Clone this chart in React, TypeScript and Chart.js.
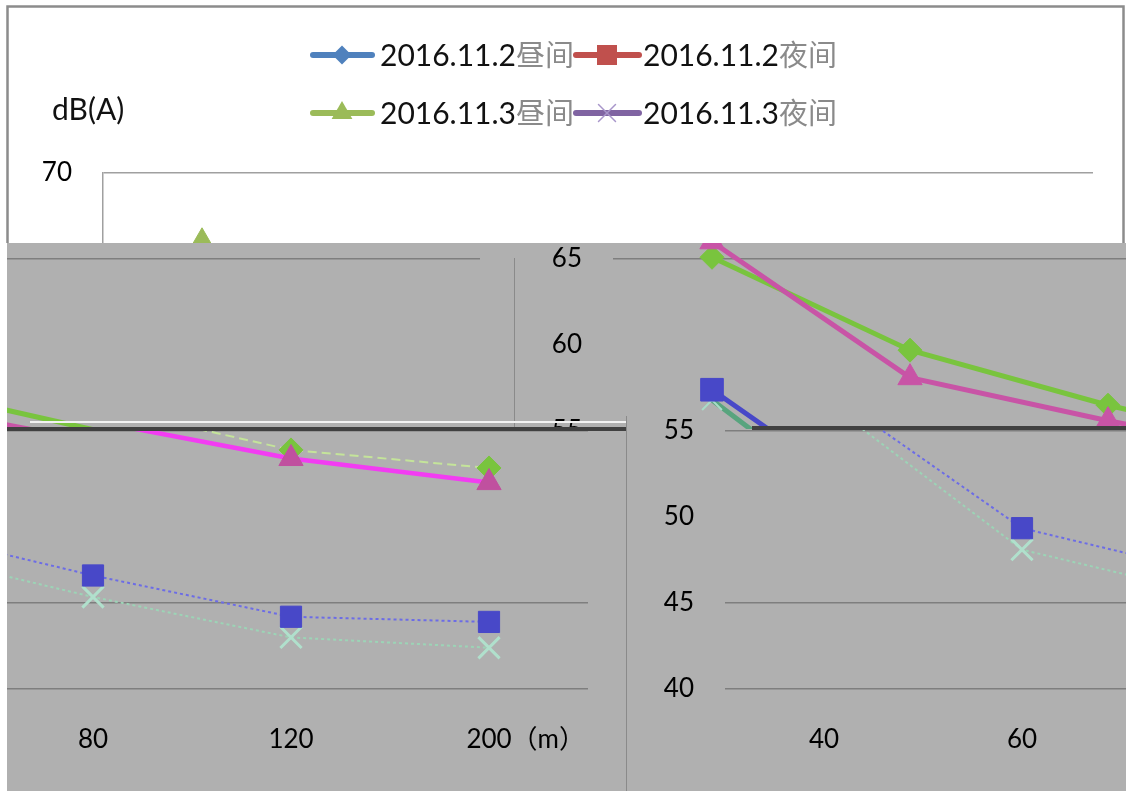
import React, { useEffect, useRef } from 'react';
import { Chart, registerables } from 'chart.js';

Chart.register(...registerables);

// ---- data ----
const distances = ['40', '60', '80', '120', '200'];
const day1102 = [65.1, 59.7, 56.5, 53.9, 52.85];
const night1102 = [57.4, 49.35, 46.6, 44.2, 43.9];
const day1103 = [66.0, 58.1, 55.6, 53.4, 52.0];
const night1103 = [56.8, 48.1, 45.35, 43.0, 42.4];
const seriesNames = ['2016.11.2昼间', '2016.11.2夜间', '2016.11.3昼间', '2016.11.3夜间'];
const yMin = 40;
const yMax = 70;
const yStep = 5;
const yUnit = 'dB(A)';
const xUnit = '（m）';

type Theme = 'white' | 'grayA' | 'grayB';

type SeriesStyle = {
  line: string;
  lw: number;
  dash: number[];
  ps: string;
  r: number;
  fill: string;
  pb: string;
  pbw: number;
};

const STYLE: Record<Theme, SeriesStyle[]> = {
  white: [
    { line: '#4F81BD', lw: 5, dash: [], ps: 'rectRot', r: 10, fill: '#4F81BD', pb: '#4F81BD', pbw: 1 },
    { line: '#C0504D', lw: 5, dash: [], ps: 'rect', r: 14, fill: '#C0504D', pb: '#C0504D', pbw: 1 },
    { line: '#9BBB59', lw: 5, dash: [], ps: 'triangle', r: 14, fill: '#9BBB59', pb: '#9BBB59', pbw: 1 },
    { line: '#8064A2', lw: 5, dash: [], ps: 'crossRot', r: 12, fill: 'rgba(0,0,0,0)', pb: '#A08CC4', pbw: 2 },
  ],
  grayA: [
    { line: '#79C43E', lw: 5, dash: [], ps: 'rectRot', r: 12, fill: '#79C43E', pb: '#79C43E', pbw: 1 },
    { line: '#4848C8', lw: 5, dash: [], ps: 'rect', r: 16, fill: '#4848C8', pb: '#4848C8', pbw: 1 },
    { line: '#C854A6', lw: 5, dash: [], ps: 'triangle', r: 14, fill: '#C854A6', pb: '#C854A6', pbw: 1 },
    { line: '#58A47E', lw: 5, dash: [], ps: 'crossRot', r: 14, fill: 'rgba(0,0,0,0)', pb: '#A8DCC8', pbw: 2 },
  ],
  grayB: [
    { line: '#C4E49A', lw: 2, dash: [9, 5], ps: 'rectRot', r: 12, fill: '#79C43E', pb: '#79C43E', pbw: 1 },
    { line: '#6C6CE6', lw: 2, dash: [3, 3], ps: 'rect', r: 15, fill: '#4848C8', pb: '#4848C8', pbw: 1 },
    { line: '#F23CF2', lw: 4.5, dash: [], ps: 'triangle', r: 14, fill: '#C0509F', pb: '#C0509F', pbw: 1 },
    { line: '#9CD4B6', lw: 2, dash: [3, 3], ps: 'crossRot', r: 15, fill: 'rgba(0,0,0,0)', pb: '#B0E0CC', pbw: 3 },
  ],
};

const LEGEND_COLORS = ['#4F81BD', '#C0504D', '#9BBB59', '#8064A2'];

const TICK_FONT = { family: 'Lato, "Noto Sans CJK SC", sans-serif', size: 26 };

function drawLegendMarker(ctx: CanvasRenderingContext2D, kind: number, x: number, y: number) {
  ctx.save();
  const c = LEGEND_COLORS[kind];
  ctx.fillStyle = c;
  ctx.strokeStyle = c;
  ctx.beginPath();
  if (kind === 0) {
    const r = 9.5;
    ctx.moveTo(x, y - r);
    ctx.lineTo(x + r, y);
    ctx.lineTo(x, y + r);
    ctx.lineTo(x - r, y);
    ctx.closePath();
    ctx.fill();
  } else if (kind === 1) {
    ctx.rect(x - 10, y - 10, 20, 20);
    ctx.fill();
  } else if (kind === 2) {
    const r = 12;
    ctx.moveTo(x, y - r);
    ctx.lineTo(x + r * 0.866, y + r * 0.5);
    ctx.lineTo(x - r * 0.866, y + r * 0.5);
    ctx.closePath();
    ctx.fill();
  } else {
    ctx.strokeStyle = '#A896CA';
    ctx.lineWidth = 1.5;
    const r = 8.5;
    ctx.moveTo(x - r, y - r);
    ctx.lineTo(x + r, y + r);
    ctx.moveTo(x + r, y - r);
    ctx.lineTo(x - r, y + r);
    ctx.stroke();
  }
  ctx.restore();
}

const decorPlugin = {
  id: 'decor',
  beforeDraw(chart: any, _args: any, opts: any) {
    const ctx: CanvasRenderingContext2D = chart.ctx;
    ctx.save();
    if (opts.theme === 'white') {
      ctx.strokeStyle = '#8C8C8C';
      ctx.lineWidth = 2.5;
      ctx.strokeRect(7.5, 6.5, 1116, 780);
    } else {
      ctx.strokeStyle = '#8A8A8A';
      ctx.lineWidth = 2;
      ctx.beginPath();
      ctx.moveTo(4, 258);
      ctx.lineTo(4, 791);
      ctx.stroke();
    }
    ctx.restore();
  },
  afterDraw(chart: any, _args: any, opts: any) {
    const ctx: CanvasRenderingContext2D = chart.ctx;
    ctx.save();
    // legend (2 x 2)
    const cols = [
      { l0: 313, l1: 372, m: 342, t: 380 },
      { l0: 576, l1: 639, m: 607, t: 643 },
    ];
    const rows = [55, 113];
    seriesNames.forEach((name, i) => {
      const col = cols[i % 2];
      const y = rows[Math.floor(i / 2)];
      ctx.strokeStyle = LEGEND_COLORS[i];
      ctx.lineWidth = 6;
      ctx.lineCap = 'round';
      ctx.beginPath();
      ctx.moveTo(col.l0, y);
      ctx.lineTo(col.l1, y);
      ctx.stroke();
      drawLegendMarker(ctx, i, col.m, y);
      const datePart = name.slice(0, name.length - 2);
      const cjkPart = name.slice(name.length - 2);
      ctx.textBaseline = 'middle';
      ctx.textAlign = 'left';
      ctx.font = '30px Lato, sans-serif';
      ctx.fillStyle = '#111';
      ctx.fillText(datePart, col.t, y + 1);
      const w = ctx.measureText(datePart).width;
      ctx.font = '29px "Noto Sans CJK SC", sans-serif';
      ctx.fillStyle = '#8A8A8A';
      ctx.fillText(cjkPart, col.t + w, y);
    });
    // y unit
    ctx.font = '30px Lato, sans-serif';
    ctx.fillStyle = '#111';
    ctx.textAlign = 'left';
    ctx.textBaseline = 'middle';
    ctx.fillText(yUnit, 52, 110);
    // x unit after last category label
    const xs = chart.scales.x;
    const lastIdx = distances.length - 1;
    const px = xs.getPixelForValue(lastIdx);
    ctx.font = '26px Lato, "Noto Sans CJK SC", sans-serif';
    const lw = ctx.measureText(distances[lastIdx]).width;
    ctx.fillStyle = '#000';
    ctx.fillText(xUnit, px + lw / 2, xs.top + 35 + 15.6);
    ctx.restore();
  },
};

function buildConfig(theme: Theme): any {
  const st = STYLE[theme];
  const seriesData = [day1102, night1102, day1103, night1103];
  const orders = [1, 2, 0, 3];
  const datasets = seriesData.map((d, i) => ({
    label: seriesNames[i],
    data: d,
    borderColor: st[i].line,
    backgroundColor: st[i].fill,
    borderWidth: st[i].lw,
    borderDash: st[i].dash,
    pointStyle: st[i].ps,
    pointRadius: st[i].r,
    pointBackgroundColor: st[i].fill,
    pointBorderColor: st[i].pb,
    pointBorderWidth: st[i].pbw,
    tension: 0,
    fill: false,
    order: orders[i],
  }));
  const gridColor = (ctx: any) => {
    const v = ctx.tick ? ctx.tick.value : null;
    if (theme === 'white') return '#A0A0A0';
    if (v === 60 || v === 50) return 'rgba(0,0,0,0)';
    return '#7E7E7E';
  };
  return {
    type: 'line',
    data: { labels: distances, datasets },
    plugins: [decorPlugin],
    options: {
      responsive: false,
      animation: false,
      devicePixelRatio: 1,
      layout: { padding: { left: 0, top: 173, right: 33, bottom: 0 } },
      plugins: {
        legend: { display: false },
        tooltip: { enabled: false },
        decor: { theme },
      },
      scales: {
        x: {
          type: 'category',
          offset: true,
          grid: { display: false, drawTicks: false },
          border: { display: false },
          ticks: {
            font: TICK_FONT,
            color: '#000',
            padding: 35,
            maxRotation: 0,
            autoSkip: false,
          },
          afterFit: (s: any) => {
            s.height = 102;
          },
        },
        y: {
          min: yMin,
          max: yMax,
          ticks: { stepSize: yStep, font: TICK_FONT, color: '#000', padding: 31 },
          grid: { drawTicks: false, color: gridColor, lineWidth: 1.5 },
          border: { display: theme === 'white', color: '#A0A0A0', width: 1.5 },
          afterFit: (s: any) => {
            s.width = 103;
          },
        },
      },
    },
  };
}

type TileProps = { x: number; y: number; w: number; h: number; shift: number; theme: Theme; bg: string };

function ChartTile({ x, y, w, h, shift, theme, bg }: TileProps) {
  const ref = useRef<HTMLCanvasElement | null>(null);
  useEffect(() => {
    if (!ref.current) return;
    const chart = new Chart(ref.current, buildConfig(theme));
    return () => chart.destroy();
  }, [theme]);
  return (
    <div style={{ position: 'absolute', left: x, top: y, width: w, height: h, overflow: 'hidden', background: bg }}>
      <canvas
        ref={ref}
        width={1126}
        height={791}
        style={{ position: 'absolute', left: shift - x, top: -y, width: 1126, height: 791 }}
      />
    </div>
  );
}

const GRAY = '#B0B0B0';

// tiles are stacked in this order (later ones on top)
const TILES: TileProps[] = [
  { x: 0, y: 0, w: 1126, h: 243, shift: 0, theme: 'white', bg: '#FFFFFF' },
  { x: 7, y: 243, w: 507, h: 184, shift: -613, theme: 'grayA', bg: GRAY },
  { x: 514, y: 243, w: 112, h: 184, shift: 510, theme: 'grayA', bg: GRAY },
  { x: 626, y: 243, w: 500, h: 173, shift: 510, theme: 'grayA', bg: GRAY },
  { x: 7, y: 427, w: 619, h: 364, shift: -505, theme: 'grayB', bg: GRAY },
  { x: 626, y: 416, w: 500, h: 375, shift: 622, theme: 'grayB', bg: GRAY },
  { x: 727, y: 416, w: 399, h: 13, shift: 510, theme: 'grayA', bg: GRAY },
];

const STRIPES = [
  { left: 30, top: 421, width: 596, height: 2, background: '#F2F2F2' },
  { left: 7, top: 427, width: 619, height: 4, background: '#404040' },
  { left: 752, top: 426, width: 374, height: 4, background: '#404040' },
];

export default function App() {
  return (
    <div
      style={{
        position: 'fixed',
        left: 0,
        top: 0,
        width: 1126,
        height: 791,
        background: '#FFFFFF',
        overflow: 'hidden',
      }}
    >
      {TILES.map((t, i) => (
        <ChartTile key={i} {...t} />
      ))}
      {STRIPES.map((s, i) => (
        <div key={'s' + i} style={{ position: 'absolute', ...s }} />
      ))}
    </div>
  );
}
